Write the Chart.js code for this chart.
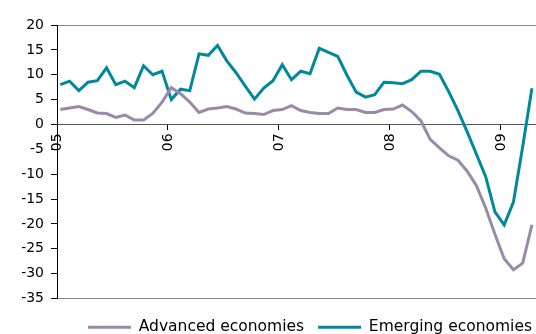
<!DOCTYPE html>
<html>
<head>
<meta charset="utf-8">
<script src="https://cdn.jsdelivr.net/npm/chart.js@4"></script>
<style>
  html, body { margin: 0; padding: 0; background: #fff; }
  #wrap { width: 536px; height: 334px; }
</style>
</head>
<body>
<div id="wrap"><canvas id="myChart" width="536" height="334"></canvas></div>
<script>
// monthly values, Jan 2005 .. Apr 2009
var advanced = [3.0, 3.3, 3.6, 3.0, 2.3, 2.2, 1.4, 1.9, 0.9, 0.9, 2.2, 4.5,
    7.4, 6.2, 4.5, 2.4, 3.1, 3.3, 3.6, 3.1, 2.3, 2.2, 2.0, 2.8,
    3.0, 3.8, 2.8, 2.4, 2.2, 2.2, 3.3, 3.0, 3.0, 2.4, 2.4, 3.0,
    3.1, 3.9, 2.6, 0.7, -3.0, -4.7, -6.3, -7.2, -9.4, -12.3, -16.8, -22.1,
    -27.0, -29.2, -27.9, -20.2];
var emerging = [8.0, 8.7, 6.8, 8.5, 8.8, 11.4, 8.0, 8.7, 7.4, 11.8, 10.0, 10.7,
    5.0, 7.1, 6.8, 14.2, 13.9, 15.9, 12.8, 10.4, 7.7, 5.1, 7.3, 8.8,
    12.0, 9.0, 10.7, 10.2, 15.3, 14.5, 13.7, 9.9, 6.5, 5.5, 6.0, 8.5,
    8.4, 8.2, 9.0, 10.7, 10.7, 10.1, 6.6, 2.8, -1.5, -6.0, -10.5, -17.6,
    -20.2, -15.6, -4.5, 7.3];
var yearLabels = ['05', '06', '07', '08', '09'];
var seriesNames = ['Advanced economies', 'Emerging economies'];

var fontName = "'DejaVu Sans', sans-serif";

function toPoints(values){
    var pts = [];
    for (var i = 0; i < values.length; i++) {
        pts.push({x: i + 0.36, y: values[i]});
    }
    return pts;
}

// nudge the legend a bit lower / right, like the original
var legendNudge = {
    id: 'legendNudge',
    afterLayout: function(chart){
        var lg = chart.legend;
        if (!lg) return;
        lg.top += 7; lg.bottom += 7;
        lg.left += 10; lg.right += 10;
    }
};

var ctx = document.getElementById('myChart').getContext('2d');
var chart = new Chart(ctx, {
    type: 'line',
    data: {
        datasets: [{
            label: seriesNames[0],
            data: toPoints(advanced),
            borderColor: '#9b89aa',
            backgroundColor: '#9b89aa',
            borderWidth: 3,
            pointRadius: 0,
            tension: 0
        }, {
            label: seriesNames[1],
            data: toPoints(emerging),
            borderColor: '#00899a',
            backgroundColor: '#00899a',
            borderWidth: 3,
            pointRadius: 0,
            tension: 0
        }]
    },
    options: {
        responsive: false,
        devicePixelRatio: 1,
        animation: false,
        layout: { padding: { top: 25, right: 0, bottom: -4, left: 0 } },
        plugins: {
            tooltip: { enabled: false },
            legend: {
                position: 'bottom',
                align: 'end',
                labels: {
                    usePointStyle: true,
                    pointStyle: 'line',
                    pointStyleWidth: 43,
                    color: '#000',
                    padding: 14,
                    font: { family: fontName, size: 15.5 }
                }
            }
        },
        scales: {
            x: {
                type: 'linear',
                position: { y: 0 },
                min: 0,
                max: 51.8,
                afterBuildTicks: function(axis){
                    axis.ticks = yearLabels.map(function(l, i){ return {value: i * 12}; });
                },
                ticks: {
                    minRotation: 90,
                    maxRotation: 90,
                    padding: 4,
                    color: '#000',
                    font: { family: fontName, size: 14 },
                    callback: function(value, index){ return yearLabels[index]; }
                },
                grid: {
                    drawOnChartArea: false,
                    tickLength: 5,
                    tickColor: '#000'
                },
                border: { color: '#555', width: 1 }
            },
            y: {
                min: -35,
                max: 20,
                afterFit: function(scale){ scale.width = 57; },
                ticks: {
                    stepSize: 5,
                    padding: 7,
                    color: '#000',
                    font: { family: fontName, size: 14 }
                },
                grid: {
                    tickLength: 6,
                    tickColor: '#000',
                    color: function(c){
                        if (c.tick && (c.tick.value === 20 || c.tick.value === -35)) return '#888';
                        return 'rgba(0,0,0,0)';
                    }
                },
                border: { color: '#000', width: 1 }
            }
        }
    },
    plugins: [legendNudge]
});
</script>
</body>
</html>
